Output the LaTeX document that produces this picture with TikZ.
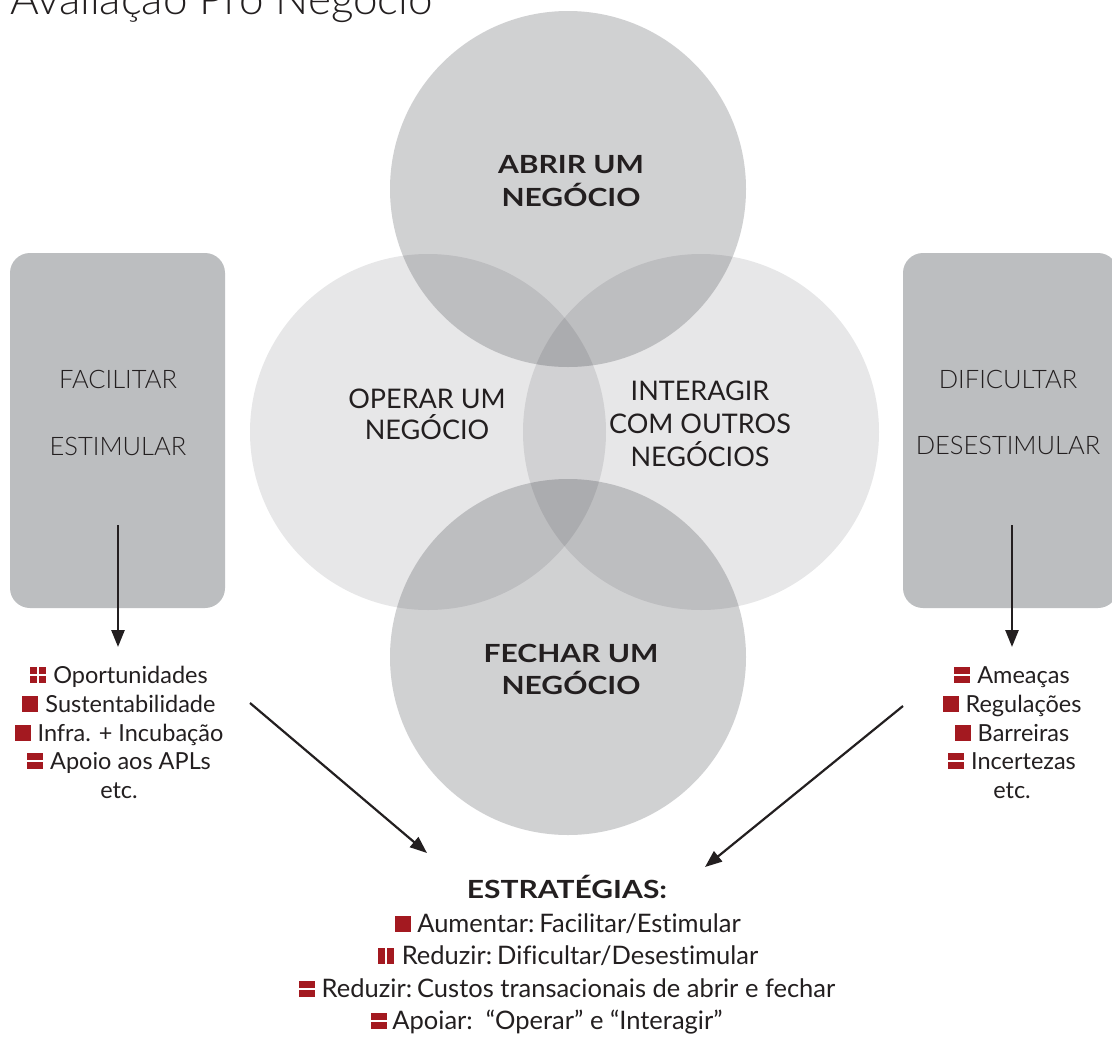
\documentclass[tikz,border=0pt]{standalone}
\usepackage{fontspec}
\setmainfont[Ligatures=NoCommon]{Lato}
\newfontfamily\lightfont[Ligatures=NoCommon]{Lato Light}
\newfontfamily\widefont[FakeStretch=1.2,Ligatures=NoCommon]{Lato}
\usetikzlibrary{arrows.meta}
\definecolor{txt}{RGB}{35,31,32}
\definecolor{bred}{RGB}{163,25,32}
\definecolor{boxg}{RGB}{188,190,192}
\definecolor{vc}{RGB}{20,22,30}
\newcommand\bulF{\textcolor{bred}{\rule{16pt}{16pt}}}
\newcommand\bulH{\textcolor{bred}{\rlap{\rule{16pt}{7.2pt}}\rule[8.8pt]{16pt}{7.2pt}}}
\newcommand\bulV{\textcolor{bred}{\rule{7.2pt}{16pt}\hspace{1.6pt}\rule{7.2pt}{16pt}}}
\newcommand\bulQ{\textcolor{bred}{\rlap{\rule{7.2pt}{7.2pt}}\rlap{\rule[8.8pt]{7.2pt}{7.2pt}}\hspace{8.8pt}\rlap{\rule{7.2pt}{7.2pt}}\rule[8.8pt]{7.2pt}{7.2pt}}}
\tikzset{
  vdark/.style={circle, minimum size=356pt, inner sep=0pt, fill=vc, fill opacity=0.197, draw=none},
  vlight/.style={circle, minimum size=356pt, inner sep=0pt, fill=vc, fill opacity=0.103, draw=none},
  sidebox/.style={rounded corners=20pt, fill=boxg, minimum width=215pt, minimum height=355pt, inner sep=0pt, draw=none},
  arr/.style={-{Triangle[width=13pt,length=17pt]}, line width=2.6pt, draw=txt},
  darr/.style={-{Triangle[width=13pt,length=17pt]}, line width=2.2pt, draw=txt},
  lbl/.style={anchor=base, inner sep=0pt, text=txt},
  creg/.style={lbl, font=\fontsize{27}{33}\selectfont},
  cbold/.style={lbl, font=\widefont\bfseries\fontsize{25}{30}\selectfont},
  blight/.style={lbl, font=\lightfont\fontsize{25.5}{30}\selectfont},
  litem/.style={lbl, font=\fontsize{23.5}{28}\selectfont},
  sitem/.style={lbl, font=\fontsize{25.5}{30}\selectfont},
}
\begin{document}
\begin{tikzpicture}[x=1pt,y=-1pt]
\useasboundingbox (0,0) rectangle (1112,1037);
\fill[white] (0,0) rectangle (1112,1037);
% title
\node[anchor=base west, inner sep=0pt, text=txt, font=\lightfont\fontsize{44}{52}\selectfont] (title) at (10,14) {Avaliação Pró Negócio};
% venn circles
\node[vlight] (operar) at (428,432) {};
\node[vlight] (interagir) at (701,432) {};
\node[vdark] (abrir) at (568,189) {};
\node[vdark] (fechar) at (568,657) {};
% circle texts
\node[cbold] (ab1) at (571,173) {ABRIR UM};
\node[cbold] (ab2) at (571,206) {NEGÓCIO};
\node[creg] (op1) at (427,408) {OPERAR UM};
\node[creg] (op2) at (427,439) {NEGÓCIO};
\node[creg] (in1) at (700,400) {INTERAGIR};
\node[creg] (in2) at (700,433) {COM OUTROS};
\node[creg] (in3) at (700,466) {NEGÓCIOS};
\node[cbold] (fe1) at (571,662) {FECHAR UM};
\node[cbold] (fe2) at (571,694) {NEGÓCIO};
% side boxes
\node[sidebox] (lbox) at (117.5,430.5) {};
\node[sidebox] (rbox) at (1010.5,430.5) {};
\node[blight] (fac) at (118,388) {FACILITAR};
\node[blight] (est) at (118,455) {ESTIMULAR};
\node[blight] (dif) at (1008,388) {DIFICULTAR};
\node[blight] (des) at (1008,454) {DESESTIMULAR};
% vertical arrows
\coordinate (la1) at (118,525);
\coordinate (la2) at (118,647);
\coordinate (ra1) at (1012,525);
\coordinate (ra2) at (1012,647);
\draw[arr] (la1) -- (la2);
\draw[arr] (ra1) -- (ra2);
% left list
\node[litem] (l1) at (119,683) {\bulQ\hspace{7pt}Oportunidades};
\node[litem] (l2) at (119,712) {\bulF\hspace{7pt}Sustentabilidade};
\node[litem] (l3) at (119,741) {\bulF\hspace{7pt}Infra. + Incubação};
\node[litem] (l4) at (119,769) {\bulH\hspace{7pt}Apoio aos APLs};
\node[litem] (l5) at (119,798) {etc.};
% right list
\node[litem] (r1) at (1012,683) {\bulH\hspace{7pt}Ameaças};
\node[litem] (r2) at (1012,712) {\bulF\hspace{7pt}Regulações};
\node[litem] (r3) at (1012,741) {\bulF\hspace{7pt}Barreiras};
\node[litem] (r4) at (1012,769) {\bulH\hspace{7pt}Incertezas};
\node[litem] (r5) at (1012,798) {etc.};
% diagonal arrows
\coordinate (ld1) at (250,703);
\coordinate (ld2) at (427,853);
\coordinate (rd1) at (903,706);
\coordinate (rd2) at (705,867);
\draw[darr] (ld1) -- (ld2);
\draw[darr] (rd1) -- (rd2);
% strategies
\node[cbold] (st0) at (567,898) {ESTRATÉGIAS:};
\node[sitem] (st1) at (568,932) {\bulF\hspace{6pt}Aumentar:\hspace{5pt}Facilitar/Estimular};
\node[sitem] (st2) at (568,964) {\bulV\hspace{8pt}Reduzir:\hspace{5pt}Dificultar/Desestimular};
\node[sitem] (st3) at (567,997) {\bulH\hspace{7pt}Reduzir:\hspace{5pt}Custos transacionais de abrir e fechar};
\node[sitem] (st4) at (547,1029) {\bulH\hspace{5pt}Apoiar:\ \ “Operar” e “Interagir”};
\end{tikzpicture}
\end{document}
